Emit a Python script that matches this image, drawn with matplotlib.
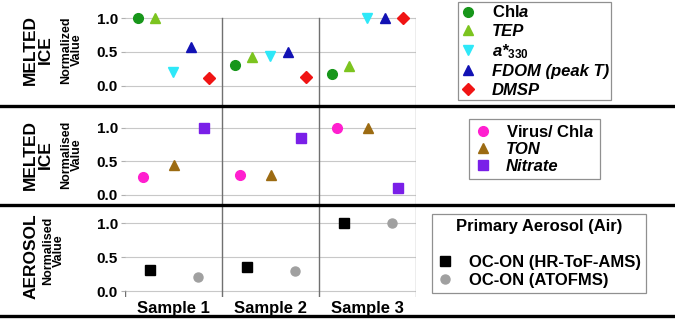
import numpy as np
import matplotlib
matplotlib.use("Agg")
import matplotlib.pyplot as plt
from matplotlib.lines import Line2D

plt.rcParams['font.family'] = ['Liberation Sans', 'DejaVu Sans']
plt.rcParams['font.weight'] = 'bold'
plt.rcParams['mathtext.fontset'] = 'custom'
plt.rcParams['mathtext.rm'] = 'Liberation Sans:bold'
plt.rcParams['mathtext.it'] = 'Liberation Sans:italic:bold'
plt.rcParams['mathtext.bf'] = 'Liberation Sans:bold'

# ---------------- data ----------------
samples = ['Sample 1', 'Sample 2', 'Sample 3']

# Panel 1: melted ice (normalized)
chla = [1.0, 0.31, 0.17]
tep = [1.0, 0.42, 0.29]
a330 = [0.21, 0.44, 1.0]
fdom = [0.58, 0.50, 1.0]
dmsp = [0.12, 0.13, 1.0]

# Panel 2: melted ice (normalised)
virus_chla = [0.27, 0.30, 1.0]
ton = [0.44, 0.30, 1.0]
nitrate = [1.0, 0.85, 0.10]

# Panel 3: aerosol (normalised)
ocon_ams = [0.31, 0.35, 1.0]
ocon_atofms = [0.20, 0.29, 1.0]

yticks = [0.0, 0.5, 1.0]
ytick_labels = ['0.0', '0.5', '1.0']

# ---------------- figure ----------------
W, H = 675, 319
fig = plt.figure(figsize=(W / 100, H / 100), dpi=100)


def fx(px):
    return px / W


def fy(py):
    return 1 - py / H


def make_ax(top_px, bot_px, ylim):
    ax = fig.add_axes([fx(125), fy(bot_px), fx(416) - fx(125), (bot_px - top_px) / H])
    ax.set_xlim(0, 3)
    ax.set_ylim(*ylim)
    for s in ax.spines.values():
        s.set_visible(False)
    ax.set_yticks(yticks)
    ax.set_yticklabels(ytick_labels, fontsize=11, fontweight='bold')
    ax.tick_params(axis='y', length=3, width=0.8, color='#b0b0b0', pad=2)
    ax.set_xticks([])
    for y in yticks:
        ax.axhline(y, color='#c8c8c8', lw=0.8, zorder=0)
    ax.patch.set_visible(False)
    return ax


ax1 = make_ax(0, 105, (-0.28, 1.265))
ax2 = make_ax(105, 205, (-0.15, 1.34))
ax3 = make_ax(205, 297, (-0.088, 1.265))

base = np.arange(len(samples))

# vertical separators
for ax in (ax1, ax2, ax3):
    lo, hi = ax.get_ylim()
    ymax = 1.0 if ax is ax1 else hi
    frac = (ymax - lo) / (hi - lo)
    for xb in (1, 2):
        ax.axvline(xb, ymin=0, ymax=frac, color='#707070', lw=1.0, zorder=0)
    ax.axvline(3, ymin=0, ymax=frac, color='#a8a8a8', lw=1.0, zorder=0)
lo, hi = ax3.get_ylim()
ax3.axvline(0, ymin=0, ymax=(0 - lo) / (hi - lo), color='#707070', lw=1.0, zorder=0)

ms = 7
# Panel 1
p1 = [
    (chla, 'o', '#17961a', 'Chl$\\mathit{a}$', 'normal'),
    (tep, '^', '#7cc41f', 'TEP', 'italic'),
    (a330, 'v', '#2ee8f8', 'a*$_{\\mathit{330}}$', 'italic'),
    (fdom, '^', '#1212b4', 'FDOM (peak T)', 'italic'),
    (dmsp, 'D', '#f01414', 'DMSP', 'italic'),
]
off1 = [0.134, 0.31, 0.49, 0.68, 0.87]
h1 = []
for (vals, m, c, lab, st), o in zip(p1, off1):
    msz = ms - 1 if m == 'D' else ms
    ax1.plot(base + o, vals, ls='none', marker=m, color=c, ms=msz, mec=c)
    h1.append(Line2D([], [], ls='none', marker=m, color=c, ms=msz))

# Panel 2
p2 = [
    (virus_chla, 'o', '#ff1fcf', 'Virus/ Chl$\\mathit{a}$', 'normal'),
    (ton, '^', '#9c6b12', 'TON', 'italic'),
    (nitrate, 's', '#7a1fe8', 'Nitrate', 'italic'),
]
off2 = [0.185, 0.505, 0.81]
h2 = []
for (vals, m, c, lab, st), o in zip(p2, off2):
    msz = ms - 0.5 if m == 's' else ms
    ax2.plot(base + o, vals, ls='none', marker=m, color=c, ms=msz, mec=c)
    h2.append(Line2D([], [], ls='none', marker=m, color=c, ms=msz))

# Panel 3
p3 = [
    (ocon_ams, 's', '#000000', 'OC-ON (HR-ToF-AMS)', 'normal'),
    (ocon_atofms, 'o', '#a0a0a0', 'OC-ON (ATOFMS)', 'normal'),
]
off3 = [0.26, 0.75]
h3 = []
for (vals, m, c, lab, st), o in zip(p3, off3):
    ax3.plot(base + o, vals, ls='none', marker=m, color=c, ms=ms - 0.5, mec=c)
    h3.append(Line2D([], [], ls='none', marker=m, color=c, ms=ms - 0.5))

# x labels for samples
ax3.set_xticks(base + 0.5, minor=False)
ax3.set_xticklabels(samples, fontsize=12, fontweight='bold')
ax3.tick_params(axis='x', length=0, pad=3)


def add_legend(entries, handles, bbox, title=None, spacing=0.25, pad=0.3):
    leg = fig.legend(handles, [e[3] for e in entries], loc='center',
                     bbox_to_anchor=bbox, frameon=True, fancybox=False,
                     edgecolor='#909090', framealpha=1,
                     prop={'size': 12, 'weight': 'bold'},
                     handlelength=1.0, handletextpad=0.9, labelspacing=spacing,
                     borderpad=pad, borderaxespad=0, title=title,
                     title_fontproperties={'size': 12, 'weight': 'bold'})
    leg.get_frame().set_linewidth(0.9)
    for t, e in zip(leg.get_texts(), entries):
        t.set_fontstyle(e[4])
    return leg


add_legend(p1, h1, (fx(454), fy(102), fx(615) - fx(454), (102 - 0) / H),
           spacing=0.2, pad=0.12)
add_legend(p2, h2, (fx(470), fy(179), fx(599) - fx(470), (179 - 119) / H), spacing=0.12)
add_legend(p3, h3, (fx(431), fy(293), fx(647) - fx(431), (293 - 214) / H),
           title='Primary Aerosol (Air)\n', spacing=0.18)

# thick separators
for py in (106, 205, 316):
    fig.add_artist(Line2D([0, 1], [fy(py), fy(py)], transform=fig.transFigure,
                          color='black', lw=2.4))

# row labels
fig.text(fx(38), fy(50), 'MELTED\nICE', rotation=90, ha='center', va='center',
         fontsize=12.5, fontweight='bold', linespacing=0.95)
fig.text(fx(71.5), fy(50), 'Normalized\nValue', rotation=90, ha='center', va='center',
         fontsize=9, fontweight='bold', linespacing=0.95)
fig.text(fx(38), fy(155), 'MELTED\nICE', rotation=90, ha='center', va='center',
         fontsize=12.5, fontweight='bold', linespacing=0.95)
fig.text(fx(71.5), fy(155), 'Normalised\nValue', rotation=90, ha='center', va='center',
         fontsize=9, fontweight='bold', linespacing=0.95)
fig.text(fx(31), fy(256), 'AEROSOL', rotation=90, ha='center', va='center',
         fontsize=12.5, fontweight='bold')
fig.text(fx(53.5), fy(251), 'Normalised\nValue', rotation=90, ha='center', va='center',
         fontsize=9, fontweight='bold', linespacing=0.95)

fig.savefig('out.png', dpi=100)
